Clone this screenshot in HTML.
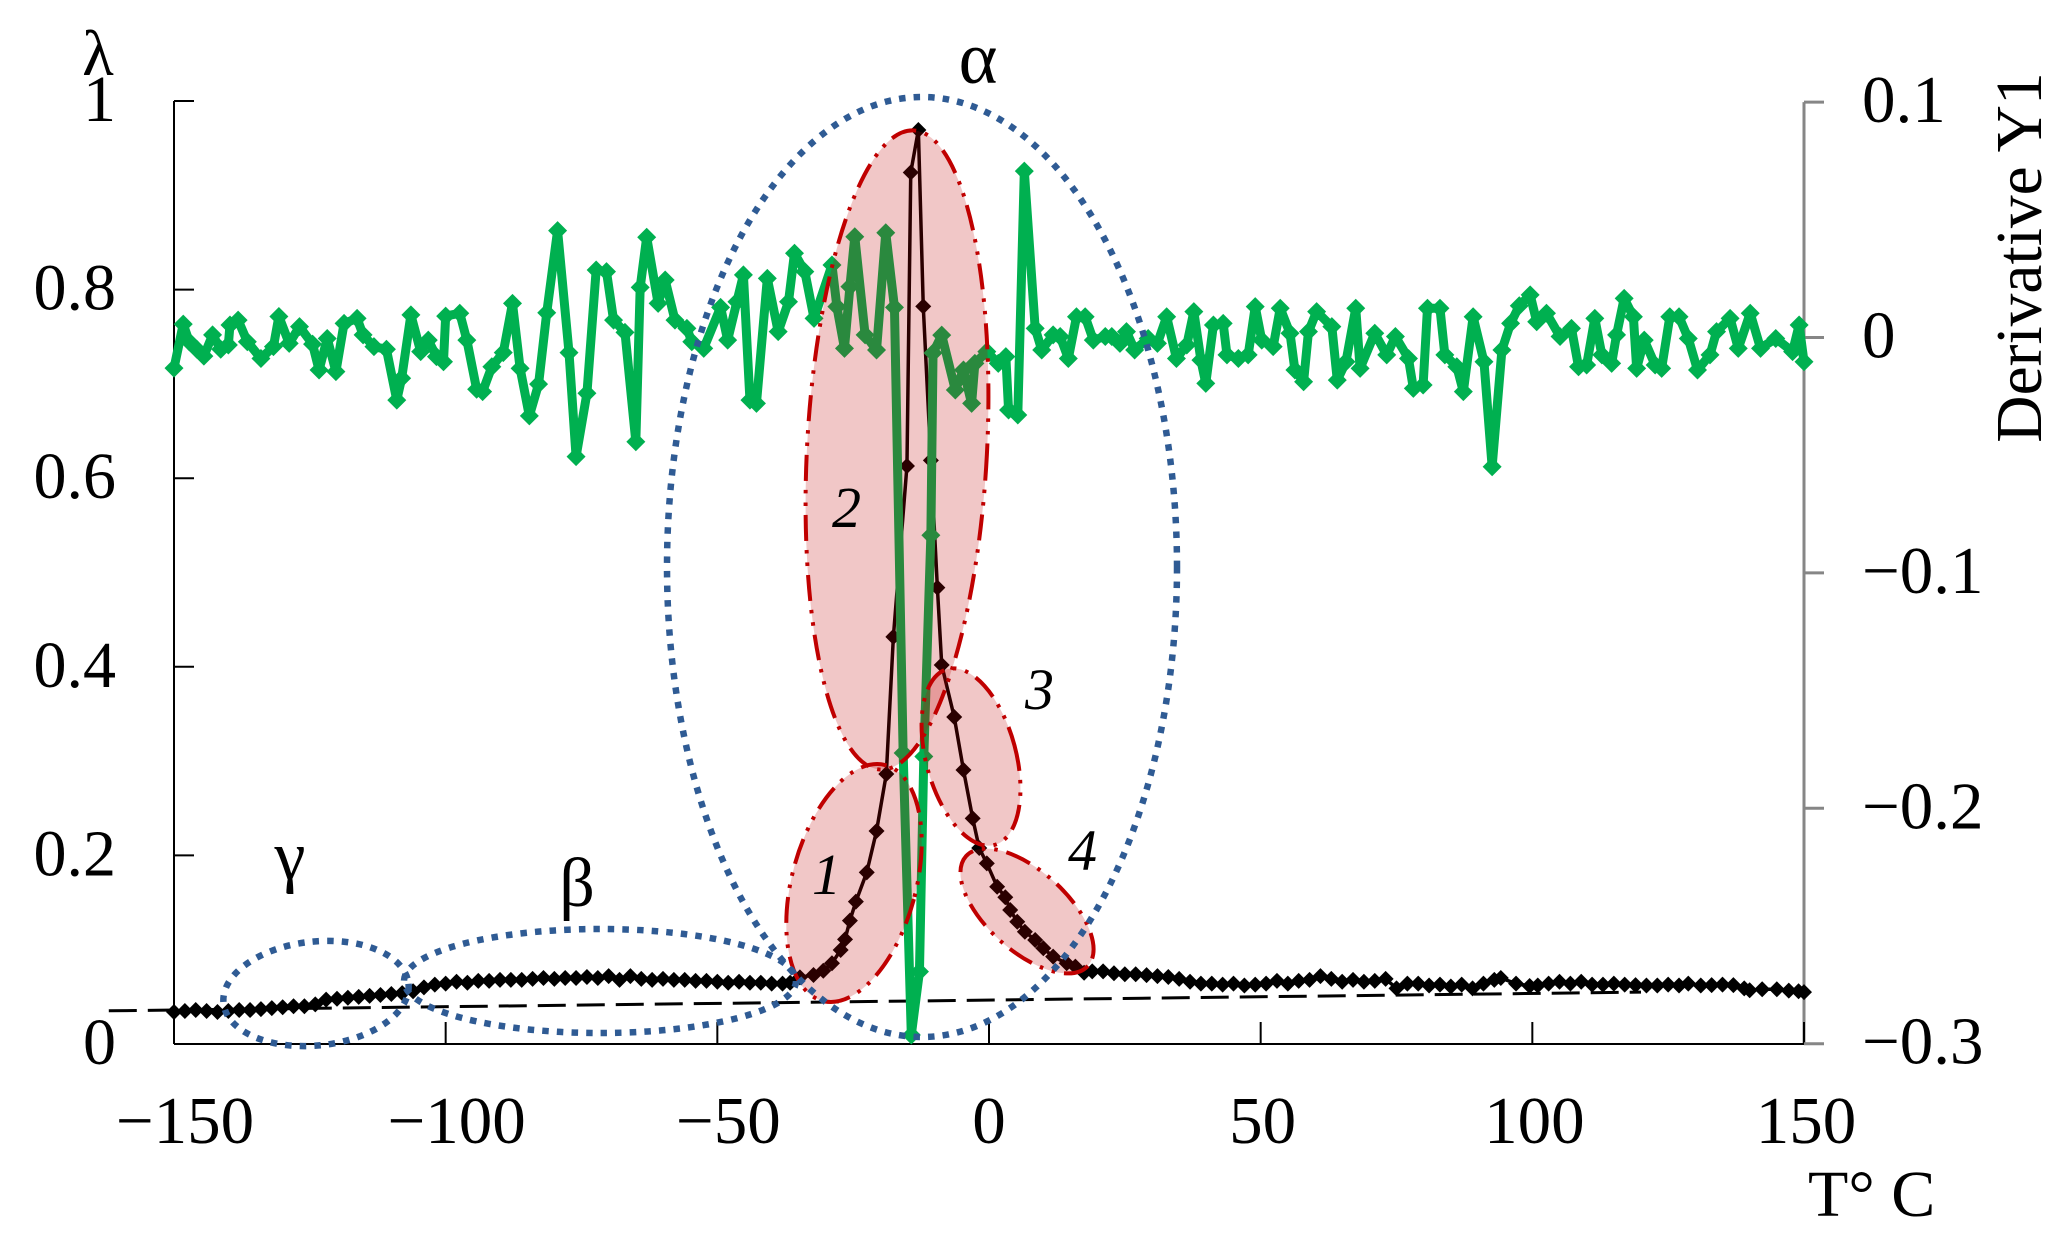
<!DOCTYPE html>
<html lang="en">
<head>
<meta charset="utf-8">
<title>Loss factor and derivative versus temperature</title>
<style>
html,body{margin:0;padding:0;background:#fff;width:2069px;height:1248px;overflow:hidden}
svg{display:block;font-family:"Liberation Serif","DejaVu Serif",serif;fill:#000}
text{font-size:65px}
</style>
</head>
<body>
<svg id="chart" width="2069" height="1248" viewBox="0 0 2069 1248" xmlns="http://www.w3.org/2000/svg">
  <g id="axes"></g>
  <g id="series"></g>
  <g id="regions">
    <g fill="rgba(192,0,0,.22)" stroke="#c00000" stroke-width="4" stroke-dasharray="26 9 3.5 9 3.5 9">
      <ellipse cx="854" cy="883" rx="62" ry="122" transform="rotate(15 854 883)"/>
      <ellipse cx="897" cy="450" rx="90" ry="320" transform="rotate(3 897 450)"/>
      <ellipse cx="971" cy="757" rx="45" ry="91" transform="rotate(-15 971 757)"/>
      <ellipse cx="1027" cy="911" rx="82" ry="40" transform="rotate(42 1027 911)"/>
    </g>
    <g fill="none" stroke="#2f5b94" stroke-width="6.5" stroke-dasharray="6.5 8.1">
      <ellipse cx="922" cy="567" rx="255" ry="470"/>
      <ellipse cx="600" cy="981" rx="196" ry="52"/>
      <ellipse cx="316" cy="993.5" rx="93" ry="52" transform="rotate(-6 316 993.5)"/>
    </g>
  </g>
  <g id="labels">
    <text x="98" y="75" text-anchor="middle">λ</text>
    <text x="978" y="83" text-anchor="middle" style="font-size:74px">α</text>
    <text x="577" y="906" text-anchor="middle" style="font-size:70px">β</text>
    <text x="290" y="879" text-anchor="middle" style="font-size:70px">γ</text>
    <text x="812" y="894" style="font-size:58px;font-style:italic">1</text>
    <text x="832" y="527" style="font-size:58px;font-style:italic">2</text>
    <text x="1025" y="709" style="font-size:58px;font-style:italic">3</text>
    <text x="1068" y="870" style="font-size:58px;font-style:italic">4</text>
    <text x="1808" y="1216" style="font-size:66px">T° C</text>
    <text transform="translate(2041 257.5) rotate(-90)" text-anchor="middle" style="font-size:65.5px">Derivative Y1</text>
  </g>
</svg>
<script>
const xTicks = [-150, -100, -50, 0, 50, 100, 150];
const xTickLabels = ['−150', '−100', '−50', '0', '50', '100', '150'];
const leftTicks = [0, 0.2, 0.4, 0.6, 0.8, 1];
const leftTickLabels = ['0', '0.2', '0.4', '0.6', '0.8', '1'];
const rightTicks = [0.1, 0, -0.1, -0.2, -0.3];
const rightTickLabels = ['0.1', '0', '−0.1', '−0.2', '−0.3'];

const baselineT = [-162, 120];
const baselineLambda = [0.0352, 0.055];

const lambdaT = [
-150,-148,-146,-144,-142,-140,-138,-136,-134,-132,-130,-128,-126,-124,-122,-120,-118,-116,-114,-112,-110,-108,-106,-104,-102,-100,
-98,-96,-94,-92,-90,-88,-86,-84,-82,-80,-78,-76,-74,-72,-70,-68,-66,-64,-62,-60,-58,-56,-54,-52,-50,-48,-46,-44,-42,-40,-38,
-36.6,-34.8,-32.3,-30.5,-28.9,-27.3,-26.5,-25.6,-24.5,-22.5,-20.7,-18.9,-17.6,-15.1,-14.4,-13,-12.1,-10.7,-9.5,-8.7,-6.4,-4.7,-3,-1.8,-0.4,
1.5,3,3.9,5.2,6.6,8.5,10,11.8,14.3,15.9,17.5,
19,21,23,25,27,29,31,33,35,37,39,41,43,45,47,49,51,53,55,57,59,61,63,65,67,69,71,73,75,77,79,81,83,85,87,89,91,93,94.2,97,99.5,
101,103,105,107,109,111,113,115,117,119,121,123,125,127,128.7,131,133,135,137,139,140,142.3,145,147.2,149,150];
const lambdaValues = [
.034,.035,.036,.035,.034,.035,.036,.036,.037,.038,.039,.040,.040,.042,.047,.048,.049,.050,.051,.052,.053,.054,.056,.060,.063,.064,
.066,.065,.067,.067,.068,.068,.068,.069,.070,.069,.070,.070,.071,.070,.072,.068,.072,.069,.068,.069,.068,.068,.067,.067,.066,.065,.066,.065,.065,.064,.064,
.065,.0707,.0732,.0777,.0856,.0997,.111,.1308,.151,.182,.2259,.2863,.4318,.613,.9242,.9692,.7822,.6189,.4839,.4019,.3468,.2906,.2393,.2078,.1916,
.1668,.1556,.1421,.1297,.1191,.1103,.1015,.0926,.0856,.082,.0756,
.077,.077,.075,.074,.074,.073,.072,.071,.069,.066,.064,.064,.063,.064,.062,.063,.064,.067,.064,.067,.068,.072,.069,.066,.068,.066,.067,.069,.059,.064,.064,.062,.063,.061,.063,.059,.064,.068,.070,.064,.0615,
.062,.064,.066,.064,.066,.063,.063,.064,.063,.0625,.062,.062,.063,.062,.064,.062,.0625,.063,.0625,.059,.057,.058,.058,.0566,.056,.055];

const derivT = [
-150,-148.3,-147.2,-145.8,-144.5,-142.9,-141.4,-140,-139.7,-138.2,-136.5,-134,-131.7,-130.7,-128.8,-126.9,-124.5,-123.3,-121.8,-120.2,-118.7,-116.3,-115.2,-113.2,-110.9,-109,-108.1,-106.4,-104.6,-103.2,-101.7,-100.4,-100,-97.4,-96.1,-94.3,-93.2,-91.5,-89.4,-87.7,-86.3,-84.6,-82.9,-81.4,-79.4,
-77.3,-76,-74,-72.3,-70.4,-69.1,-67,-65,-64.2,-63,-60.9,-59.6,-57.8,-55.6,-54.7,-52.5,-49.4,-48.1,-46.4,-45.2,-44,-42.8,-40.8,-38.8,-36.9,-35.8,-33.9,-32.2,-28.9,-28,-26.6,-25.6,-24.7,-22.8,-20.7,-19,-17.4,
-15.8,-14.3,-12.8,-12,-10.7,-10.3,-8.7,-6.2,-4.7,-3.2,-2.6,-0.4,1.7,3.1,3.6,5.3,6.5,8.5,9.7,11.8,13.1,14.6,16.1,17.7,19.2,21.4,22.6,24.1,25.3,26.8,29.3,31,32.7,34.5,36.4,37.7,39,39.9,41.3,43.1,43.8,45.9,47.7,49,50.2,52.3,53.6,55.4,56.3,57.9,58.8,60.3,63.1,64.1,
65.7,67.5,68.3,71,73.2,74.8,77.2,78.1,79.9,80.7,83,83.9,86.1,87.3,89.1,91.1,92.6,94.4,96,97.6,99.6,100.8,102.6,105.1,107.2,108.5,110,111.5,112.8,114.6,115.5,116.9,118.6,119.2,120.6,122.6,123.8,125.3,127,128.7,130.4,132.7,133.9,136.4,137.9,140.1,142,144.8,147.9,149.1,150];
const derivValues = [
-.013,.0057,-.0018,-.005,-.0079,.0011,-.005,-.0032,.0053,.0074,-.0018,-.0089,-.0039,.0089,-.0025,.0046,-.0028,-.0138,-.0004,-.0145,.006,.0081,.0011,-.0039,-.005,-.0266,-.0173,.0096,-.006,-.0011,-.0081,-.0103,.0091,.0103,-.0011,-.022,-.023,-.0124,-.0064,.0145,-.0131,-.0333,-.0198,.0105,.0454,
-.0064,-.0506,-.0237,.0287,.028,.0074,.0022,-.0443,.0213,.0426,.0145,.0244,.0074,.0039,-.0018,-.0046,.0128,-.0011,.0152,.0266,-.0266,-.028,.0251,.0025,.0152,.0358,.028,.0081,.0308,.0131,-.0046,.0216,.0428,.0011,-.0053,.0445,.0128,
-.1765,-.2963,-.2694,-.178,-.084,-.0066,.001,-.0223,-.0138,-.028,-.011,-.006,-.011,-.0081,-.0308,-.0329,.0707,.0039,-.0053,.0011,.0004,-.0089,.0088,.0088,-.0011,.0004,.0004,-.0025,.0025,-.0053,-.0004,-.0025,.0088,-.0089,-.0032,.011,-.0096,-.0195,.0053,.006,-.0074,-.0089,-.0074,.0131,-.0011,-.0039,.0124,.0018,-.0138,-.0188,.0025,.011,.0046,-.0181,
-.0103,.0124,-.0131,.0018,-.0074,.0004,-.0089,-.0216,-.0202,.0124,.0124,-.0074,-.0124,-.023,.0088,-.0103,-.0549,-.0053,.006,.0135,.0181,.0067,.0103,.0004,.0039,-.0124,-.0117,.0081,-.0074,-.011,.0011,.0166,.0088,-.0131,-.0011,-.0117,-.0131,.0088,.0088,-.0004,-.0138,-.0074,.0025,.0081,-.0046,.0103,-.0046,-.0004,-.006,.0053,-.0103];

const NS = 'http://www.w3.org/2000/svg';
const xScale = t => 174 + (t + 150) * (1630 / 300);
const yLeft = v => 1044 - v * 943;
const yRight = v => 337.5 - v * 2354;

function make(parent, tag, attrs, text) {
  const el = document.createElementNS(NS, tag);
  for (const k in attrs) el.setAttribute(k, attrs[k]);
  if (text !== undefined) el.textContent = text;
  parent.appendChild(el);
  return el;
}
const axes = document.getElementById('axes');
const series = document.getElementById('series');

let el = make(axes, 'line', {x1: xScale(-150), x2: xScale(-150), y1: yLeft(1), y2: yLeft(0), stroke: '#000', 'stroke-width': 2});


el = make(axes, 'line', {x1: xScale(150), x2: xScale(150), y1: yRight(0.1), y2: yRight(-0.3), stroke: '#868686', 'stroke-width': 3});


el = make(axes, 'line', {x1: xScale(-150), x2: xScale(150), y1: yLeft(0), y2: yLeft(0), stroke: '#000', 'stroke-width': 2});



xTicks.forEach((t, i) => {
  const tick = make(axes, 'line', {x1: xScale(t), x2: xScale(t), y1: yLeft(0), y2: yLeft(0) - 22, stroke: '#000', 'stroke-width': 2});
  
  
  const off = t < 0 ? 11 : (t === 0 ? 0 : 2);
  const label = make(axes, 'text', {x: xScale(t) + off, y: 1143, 'text-anchor': 'middle', style: 'font-size:67px'}, xTickLabels[i]);
  
  
});
leftTicks.forEach((v, i) => {
  const tick = make(axes, 'line', {x1: xScale(-150), x2: xScale(-150) + 20, y1: yLeft(v), y2: yLeft(v), stroke: '#000', 'stroke-width': 2});
  
  
  const label = make(axes, 'text', {x: 116, y: yLeft(v) + 20, 'text-anchor': 'end', style: 'font-size:66px'}, leftTickLabels[i]);
  
  
});
rightTicks.forEach((v, i) => {
  const tick = make(axes, 'line', {x1: xScale(150), x2: xScale(150) + 20, y1: yRight(v), y2: yRight(v), stroke: '#868686', 'stroke-width': 3});
  
  
  const label = make(axes, 'text', {x: 1862, y: yRight(v) + 20, style: 'font-size:67px'}, rightTickLabels[i]);
  
  
});

el = make(series, 'polyline', {
  points: baselineT.map((t, i) => xScale(t) + ',' + yLeft(baselineLambda[i])).join(' '),
  fill: 'none', stroke: '#000', 'stroke-width': 3, 'stroke-dasharray': '28 11'
});



function diamond(cx, cy, r) {
  return [cx, cy - r, cx + r, cy, cx, cy + r, cx - r, cy].join(',');
}

const lambdaGroup = make(series, 'g', {});


el = make(lambdaGroup, 'polyline', {
  points: lambdaT.map((t, i) => xScale(t) + ',' + yLeft(lambdaValues[i])).join(' '),
  fill: 'none', stroke: '#000', 'stroke-width': 3.5
});


lambdaT.forEach((t, i) => {
  const m = make(lambdaGroup, 'polygon', {points: diamond(xScale(t), yLeft(lambdaValues[i]), 8), fill: '#000'});
  
  
});

const derivGroup = make(series, 'g', {});


el = make(derivGroup, 'polyline', {
  points: derivT.map((t, i) => xScale(t) + ',' + yRight(derivValues[i])).join(' '),
  fill: 'none', stroke: '#00b050', 'stroke-width': 9, 'stroke-linejoin': 'round'
});


derivT.forEach((t, i) => {
  const m = make(derivGroup, 'polygon', {points: diamond(xScale(t), yRight(derivValues[i]), 9.5), fill: '#00b050'});
  
  
});
</script>
</body>
</html>
